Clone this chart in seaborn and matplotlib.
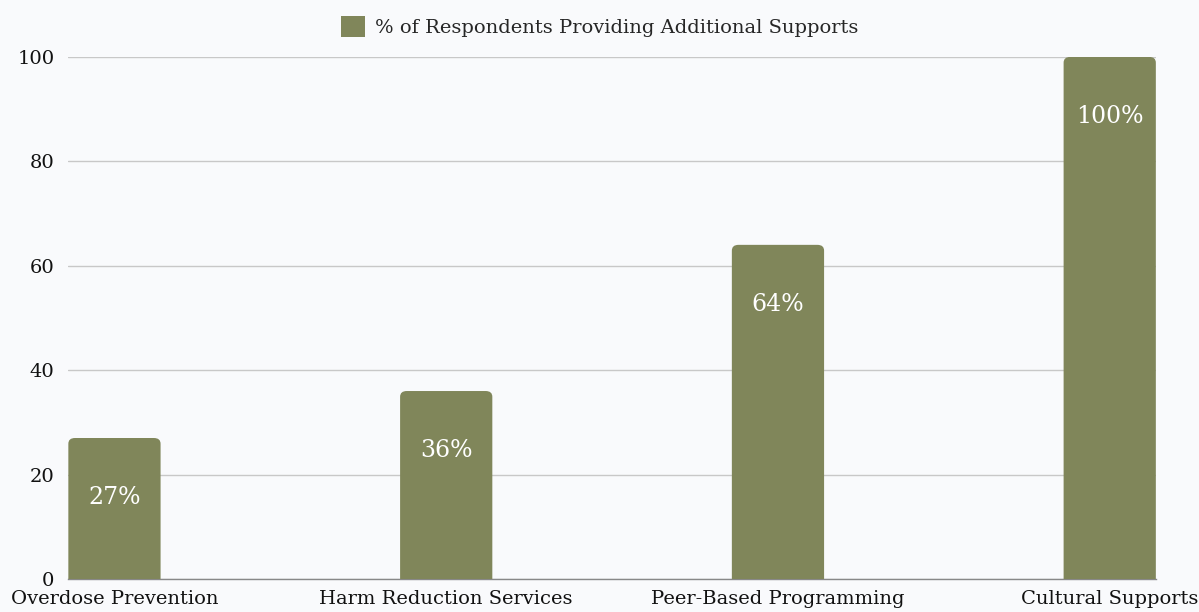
import matplotlib
matplotlib.use("Agg")
import matplotlib.pyplot as plt
import seaborn as sns
import pandas as pd
from matplotlib.patches import FancyBboxPatch, Patch

categories = ["Overdose Prevention", "Harm Reduction Services",
              "Peer-Based Programming", "Cultural Supports"]
values = [27, 36, 64, 100]
value_labels = ["27%", "36%", "64%", "100%"]
series_name = "% of Respondents Providing Additional Supports"
y_ticks = [0, 20, 40, 60, 80, 100]

bar_color = "#80865a"
bg = "#f9fafc"

sns.set_theme(style="white")
plt.rcParams["font.family"] = ["DejaVu Serif"]

df = pd.DataFrame({"category": categories, "value": values})

fig = plt.figure(figsize=(11.99, 6.12), dpi=100, facecolor=bg)
ax = fig.add_axes([0.057, 0.054, 0.907, 0.853])
ax.set_facecolor(bg)

sns.barplot(data=df, x="category", y="value", color=bar_color,
            width=0.278, saturation=1, ax=ax, zorder=3)

# Swap plain rectangles for rounded ones
rounded = []
for p in list(ax.patches):
    x0, w, h = p.get_x(), p.get_width(), p.get_height()
    fb = FancyBboxPatch((x0, -3), w, h + 3,
                        boxstyle="round,pad=0,rounding_size=0.02",
                        mutation_aspect=55,
                        facecolor=bar_color, edgecolor="none", zorder=3)
    p.remove()
    ax.add_patch(fb)
    rounded.append((x0 + w / 2, h))

for (cx, h), lab in zip(rounded, value_labels):
    ax.annotate(lab, (cx, h), xytext=(0, -43), textcoords="offset points",
                ha="center", va="center", color="white", fontsize=17,
                fontweight="light", zorder=4)

ax.set_xlim(-0.139, 3.139)
ax.set_ylim(0, 100)
ax.set_yticks(y_ticks)
ax.yaxis.grid(True, color="#c8c8c8", linewidth=1, zorder=0)
ax.set_xlabel("")
ax.set_ylabel("")
for s in ["top", "right", "left"]:
    ax.spines[s].set_visible(False)
ax.spines["bottom"].set_color("#888888")
ax.spines["bottom"].set_linewidth(1)
ax.tick_params(axis="both", length=0, labelsize=14, colors="#111111")
ax.tick_params(axis="y", pad=10)
ax.tick_params(axis="x", pad=8)

fig.legend(handles=[Patch(facecolor=bar_color, edgecolor="none", label=series_name)],
           loc="upper center", bbox_to_anchor=(0.5, 1.003), frameon=False,
           fontsize=14, handlelength=1.25, handleheight=1.3, handletextpad=0.5)

fig.savefig("out.png", dpi=100, facecolor=bg)
